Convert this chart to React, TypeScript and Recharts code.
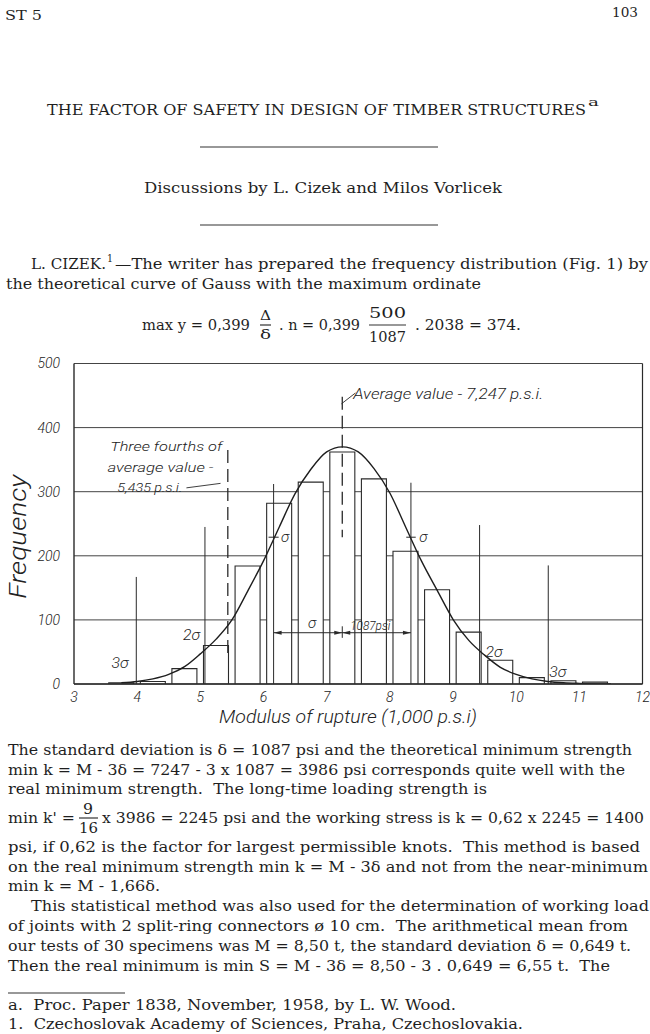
import {
  ComposedChart,
  Bar,
  Line,
  XAxis,
  YAxis,
  CartesianGrid,
  ReferenceLine,
  ReferenceDot,
  Label,
} from 'recharts'

// histogram: bin start (1,000 psi), bins are 500 psi wide
const BIN_START = [3, 3.5, 4, 4.5, 5, 5.5, 6, 6.5, 7, 7.5, 8, 8.5, 9, 9.5, 10, 10.5, 11, 11.5]
const BIN_FREQ = [0, 2, 4, 24, 60, 184, 282, 315, 362, 320, 207, 147, 81, 37, 10, 5, 3, 0]

// Gauss curve as drawn on the figure
const CURVE_X = [3.75, 4, 4.25, 4.5, 4.75, 5, 5.25, 5.5, 5.75, 6, 6.25, 6.5, 6.75, 7, 7.25, 7.5, 7.75, 8, 8.25, 8.5, 8.75, 9, 9.25, 9.5, 9.75, 10, 10.25, 10.5, 10.75, 11, 11.5]
const CURVE_Y = [2, 4, 8, 15, 27, 47, 70, 100, 145, 192, 245, 297, 335, 362, 370, 362, 336, 298, 245, 192, 146, 101, 68, 45, 26, 15, 8, 4, 2, 1, 0]

const X_TICKS = [3, 4, 5, 6, 7, 8, 9, 10, 11, 12]
const Y_TICKS = [0, 100, 200, 300, 400, 500]

const MEAN = 7.247
const THREE_FOURTHS = 5.435
// M - 3s ... M + 3s
const SIGMA_X = [3.986, 5.073, 6.16, 8.334, 9.421, 10.508]
const SIGMA_TOP = [167, 245, 312, 314, 248, 185]
const ARROW_Y = 80

const NOTES = [
  { x: 7.42, y: 453, t: 'Average value - 7,247 p.s.i.', a: 'start', s: 14, w: 190 },
  { x: 4.46, y: 370, t: 'Three fourths of', a: 'middle', s: 13, w: 112 },
  { x: 4.37, y: 338, t: 'average value -', a: 'middle', s: 13, w: 106 },
  { x: 4.2, y: 307, t: '5,435 p.s.i.', a: 'middle', s: 13, w: 65 },
  { x: 6.34, y: 229, t: 'σ', a: 'middle', s: 15, w: 0 },
  { x: 8.53, y: 229, t: 'σ', a: 'middle', s: 15, w: 0 },
  { x: 4.86, y: 76, t: '2σ', a: 'middle', s: 14, w: 17 },
  { x: 3.73, y: 33, t: '3σ', a: 'middle', s: 14, w: 17 },
  { x: 9.65, y: 50, t: '2σ', a: 'middle', s: 14, w: 17 },
  { x: 10.66, y: 19, t: '3σ', a: 'middle', s: 14, w: 17 },
  { x: 6.77, y: 95, t: 'σ', a: 'middle', s: 15, w: 0 },
  { x: 7.69, y: 91, t: '1087psi', a: 'middle', s: 13, w: 40 },
]

const INK = '#2a2a2a'
const HAND = "Roboto, 'DejaVu Sans', sans-serif"
const SERIF = "'DejaVu Serif', 'Liberation Serif', serif"

// page text: x, baseline y, width, text, size
const PAGE_TEXT = [
  { x: 5, y: 20, w: 37, t: 'ST 5', s: 13 },
  { x: 612, y: 17, w: 26, t: '103', s: 13 },
  { x: 47, y: 115, w: 539, t: 'THE FACTOR OF SAFETY IN DESIGN OF TIMBER STRUCTURES', s: 14.5 },
  { x: 588, y: 106, w: 11, t: 'a', s: 11 },
  { x: 144, y: 193, w: 358, t: 'Discussions by L. Cizek and Milos Vorlicek', s: 15 },
  { x: 31, y: 269, w: 75, t: 'L. CIZEK.', s: 15 },
  { x: 107, y: 262, w: 6, t: '1', s: 11 },
  { x: 115, y: 269, w: 533, t: '—The writer has prepared the frequency distribution (Fig. 1) by', s: 15 },
  { x: 6, y: 289, w: 475, t: 'the theoretical curve of Gauss with the maximum ordinate', s: 15 },
  { x: 142, y: 330, w: 108, t: 'max y = 0,399', s: 15 },
  { x: 260, y: 320, w: 11, t: 'Δ', s: 13 },
  { x: 260, y: 339, w: 11, t: 'δ', s: 13 },
  { x: 279, y: 330, w: 81, t: '. n = 0,399', s: 15 },
  { x: 369, y: 318, w: 37, t: '500', s: 14 },
  { x: 369, y: 342, w: 37, t: '1087', s: 14 },
  { x: 415, y: 330, w: 106, t: '. 2038 = 374.', s: 15 },
  { x: 8, y: 755, w: 624, t: 'The standard deviation is δ = 1087 psi and the theoretical minimum strength', s: 15 },
  { x: 8, y: 775, w: 617, t: 'min k = M - 3δ = 7247 - 3 x 1087 = 3986 psi corresponds quite well with the', s: 15 },
  { x: 8, y: 794, w: 479, t: 'real minimum strength.  The long-time loading strength is', s: 15 },
  { x: 8, y: 823, w: 67, t: "min k' =", s: 15 },
  { x: 83, y: 814, w: 10, t: '9', s: 14 },
  { x: 79, y: 833, w: 19, t: '16', s: 14 },
  { x: 102, y: 823, w: 542, t: 'x 3986 = 2245 psi and the working stress is k = 0,62 x 2245 = 1400', s: 15 },
  { x: 8, y: 852, w: 632, t: 'psi, if 0,62 is the factor for largest permissible knots.  This method is based', s: 15 },
  { x: 8, y: 872, w: 640, t: 'on the real minimum strength min k = M - 3δ and not from the near-minimum', s: 15 },
  { x: 8, y: 891, w: 152, t: 'min k = M - 1,66δ.', s: 15 },
  { x: 31, y: 911, w: 618, t: 'This statistical method was also used for the determination of working load', s: 15 },
  { x: 8, y: 931, w: 620, t: 'of joints with 2 split-ring connectors ø 10 cm.  The arithmetical mean from', s: 15 },
  { x: 8, y: 951, w: 623, t: 'our tests of 30 specimens was M = 8,50 t, the standard deviation δ = 0,649 t.', s: 15 },
  { x: 8, y: 971, w: 602, t: 'Then the real minimum is min S = M - 3δ = 8,50 - 3 . 0,649 = 6,55 t.  The', s: 15 },
  { x: 8, y: 1010, w: 448, t: 'a.  Proc. Paper 1838, November, 1958, by L. W. Wood.', s: 15 },
  { x: 8, y: 1029, w: 515, t: '1.  Czechoslovak Academy of Sciences, Praha, Czechoslovakia.', s: 15 },
]

// page rules: x1, x2, y
const PAGE_RULES = [
  [200, 438, 147],
  [200, 438, 225],
  [260, 271, 325],
  [369, 406, 325],
  [79, 98, 818],
  [8, 125, 993],
]

const bins = BIN_START.map((b, i) => ({ bin: String(b), freq: BIN_FREQ[i] }))
const curve = CURVE_X.map((x, i) => ({ x, y: CURVE_Y[i] }))

const noteShape = (n: any) => (p: any) => (
  <text
    x={p.cx}
    y={p.cy}
    textAnchor={n.a}
    dominantBaseline="central"
    fontFamily={HAND}
    fontStyle="italic"
    fontWeight={300}
    fontSize={n.s}
    fill="#222"
    {...(n.w ? { textLength: n.w, lengthAdjust: 'spacingAndGlyphs' } : {})}
  >
    {n.t}
  </text>
)

// arrow tips on the sigma dimension line: dir 1 = pointing right
const ARROWS = [
  { x: SIGMA_X[2], dir: -1 },
  { x: MEAN, dir: 1 },
  { x: MEAN, dir: -1 },
  { x: SIGMA_X[3], dir: 1 },
]

const arrowShape = (dir: number) => (p: any) => (
  <path
    d={`M${p.cx},${p.cy} L${p.cx - dir * 8},${p.cy - 2} L${p.cx - dir * 8},${p.cy + 2} Z`}
    fill={INK}
  />
)

function Histogram() {
  return (
    <ComposedChart
      width={650}
      height={390}
      data={bins}
      margin={{ top: 13.5, right: 7.5, bottom: 6, left: 0 }}
    >
      <CartesianGrid horizontal vertical={false} stroke="#444" strokeWidth={1} />
      <XAxis
        xAxisId="x"
        dataKey="x"
        type="number"
        domain={[3, 12]}
        ticks={X_TICKS}
        interval={0}
        allowDataOverflow
        height={50}
        tickLine={false}
        axisLine={{ stroke: INK, strokeWidth: 1.6 }}
        tick={{ fontFamily: HAND, fontStyle: 'italic', fontWeight: 300, fontSize: 14, fill: '#222' }}
        tickMargin={2}
      >
        <Label
          content={(p: any) => {
            const vb = p.viewBox
            return (
              <text
                x={vb.x + 274}
                y={vb.y + 39}
                textAnchor="middle"
                fontFamily={HAND}
                fontStyle="italic"
                fontWeight={300}
                fontSize={18}
                fill="#222"
                textLength={258}
                lengthAdjust="spacingAndGlyphs"
              >
                Modulus of rupture (1,000 p.s.i)
              </text>
            )
          }}
        />
      </XAxis>
      <XAxis xAxisId="bins" dataKey="bin" type="category" hide height={0} />
      <YAxis
        width={74}
        domain={[0, 500]}
        ticks={Y_TICKS}
        interval={0}
        allowDataOverflow
        tickLine={false}
        axisLine={{ stroke: INK, strokeWidth: 1.4 }}
        tick={{ fontFamily: HAND, fontStyle: 'italic', fontWeight: 300, fontSize: 14, fill: '#222' }}
        tickMargin={8}
      >
        <Label
          content={(p: any) => {
            const vb = p.viewBox
            const cx = vb.x + 18
            const cy = vb.y + vb.height / 2 + 13
            return (
              <text
                x={cx}
                y={cy}
                transform={`rotate(-90, ${cx}, ${cy})`}
                textAnchor="middle"
                dominantBaseline="central"
                fontFamily={HAND}
                fontStyle="italic"
                fontWeight={300}
                fontSize={23}
                fill="#222"
                textLength={124}
                lengthAdjust="spacingAndGlyphs"
              >
                Frequency
              </text>
            )
          }}
        />
      </YAxis>
      <Bar
        xAxisId="bins"
        dataKey="freq"
        fill="#fff"
        stroke={INK}
        strokeWidth={1.1}
        barCategoryGap={0}
        isAnimationActive={false}
      />
      <ReferenceLine xAxisId="x" x={12} stroke={INK} strokeWidth={1.2} />
      {SIGMA_X.map((sx, i) => (
        <ReferenceLine
          key={'s' + i}
          xAxisId="x"
          segment={[{ x: sx, y: 0 }, { x: sx, y: SIGMA_TOP[i] }]}
          stroke={INK}
          strokeWidth={1}
        />
      ))}
      <ReferenceLine
        xAxisId="x"
        segment={[{ x: MEAN, y: 448 }, { x: MEAN, y: 229 }]}
        stroke={INK}
        strokeWidth={1.3}
        strokeDasharray="13 6"
      />
      <ReferenceLine
        xAxisId="x"
        segment={[{ x: MEAN, y: 72 }, { x: MEAN, y: 90 }]}
        stroke={INK}
        strokeWidth={1}
      />
      <ReferenceLine
        xAxisId="x"
        segment={[{ x: THREE_FOURTHS, y: 365 }, { x: THREE_FOURTHS, y: 48 }]}
        stroke={INK}
        strokeWidth={1.3}
        strokeDasharray="13 6"
      />
      <ReferenceLine
        xAxisId="x"
        segment={[{ x: SIGMA_X[2], y: ARROW_Y }, { x: SIGMA_X[3], y: ARROW_Y }]}
        stroke={INK}
        strokeWidth={1}
      />
      <ReferenceLine
        xAxisId="x"
        segment={[{ x: 7.233, y: 437 }, { x: 7.455, y: 454 }]}
        stroke={INK}
        strokeWidth={0.9}
      />
      <ReferenceLine
        xAxisId="x"
        segment={[{ x: 4.78, y: 306 }, { x: 5.32, y: 313 }]}
        stroke={INK}
        strokeWidth={0.9}
      />
      <ReferenceLine
        xAxisId="x"
        segment={[{ x: 6.08, y: 229 }, { x: 6.24, y: 229 }]}
        stroke={INK}
        strokeWidth={1}
      />
      <ReferenceLine
        xAxisId="x"
        segment={[{ x: 8.26, y: 229 }, { x: 8.41, y: 229 }]}
        stroke={INK}
        strokeWidth={1}
      />
      <Line
        xAxisId="x"
        data={curve}
        dataKey="y"
        type="monotone"
        stroke="#1e1e1e"
        strokeWidth={1.4}
        dot={false}
        activeDot={false}
        isAnimationActive={false}
      />
      {ARROWS.map((a, i) => (
        <ReferenceDot
          key={'a' + i}
          xAxisId="x"
          x={a.x}
          y={ARROW_Y}
          r={0}
          shape={arrowShape(a.dir)}
        />
      ))}
      {NOTES.map((n, i) => (
        <ReferenceDot key={'n' + i} xAxisId="x" x={n.x} y={n.y} r={0} shape={noteShape(n)} />
      ))}
    </ComposedChart>
  )
}

export default function App() {
  return (
    <div
      style={{
        position: 'absolute',
        left: 0,
        top: 0,
        width: 650,
        height: 1034,
        background: '#fff',
        overflow: 'hidden',
      }}
    >
      <svg
        width={650}
        height={1034}
        style={{ position: 'absolute', left: 0, top: 0 }}
      >
        {PAGE_TEXT.map((l, i) => (
          <text
            key={i}
            x={l.x}
            y={l.y}
            fontFamily={SERIF}
            fontSize={l.s}
            fill="#1f1f1f"
            textLength={l.w}
            lengthAdjust="spacingAndGlyphs"
            style={{ whiteSpace: 'pre' }}
          >
            {l.t}
          </text>
        ))}
        {PAGE_RULES.map((r, i) => (
          <line key={i} x1={r[0]} x2={r[1]} y1={r[2]} y2={r[2]} stroke="#333" strokeWidth={1.2} />
        ))}
      </svg>
      <div style={{ position: 'absolute', left: 0, top: 350 }}>
        <Histogram />
      </div>
    </div>
  )
}
